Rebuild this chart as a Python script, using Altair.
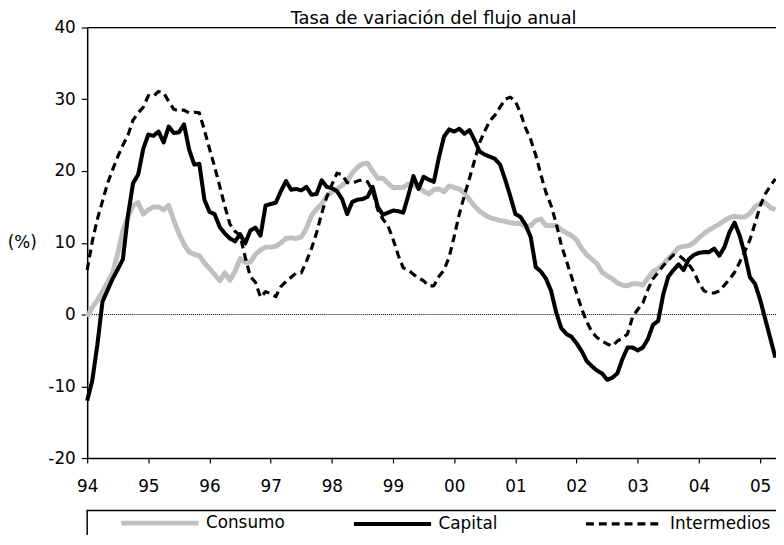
import altair as alt
import pandas as pd

# ---- data (monthly, Jan 1994 .. Apr 2005) ----
start_year = 1994
year_ticks = list(range(1994, 2006))
y_ticks = [-20, -10, 0, 10, 20, 30, 40]
title_text = "Tasa de variación del flujo anual"

consumo = [
    -0.3, 1.0, 2.0, 3.2, 4.5, 5.8, 8.5, 11.7, 13.6, 15.2, 15.6, 14.0,
    14.6, 15.0, 15.0, 14.6, 15.2, 13.1, 11.3, 9.8, 8.7, 8.4, 8.2, 7.2,
    6.4, 5.6, 4.7, 5.8, 4.8, 6.0, 7.8, 7.3, 7.3, 8.4, 9.0, 9.4,
    9.4, 9.5, 10.0, 10.6, 10.7, 10.6, 10.8, 12.0, 13.8, 14.7, 15.4, 16.5,
    17.1, 17.5, 18.0, 18.6, 19.7, 20.5, 21.0, 21.1, 20.0, 19.0, 19.0, 18.3,
    17.7, 17.7, 17.7, 18.2, 18.0, 17.7, 17.2, 16.8, 17.4, 17.5, 17.1, 17.9,
    17.7, 17.5, 16.9, 16.0, 15.1, 14.4, 13.9, 13.5, 13.3, 13.1, 13.0, 12.8,
    12.7, 12.7, 12.2, 12.4, 13.1, 13.3, 12.4, 12.4, 12.4, 11.8, 11.4, 11.0,
    10.4, 9.2, 8.3, 7.7, 7.1, 5.9, 5.4, 5.0, 4.4, 4.1, 4.0, 4.3,
    4.3, 4.1, 5.1, 6.0, 6.4, 7.0, 7.8, 8.5, 9.3, 9.5, 9.6, 10.0,
    10.7, 11.3, 11.8, 12.2, 12.6, 13.1, 13.5, 13.7, 13.6, 13.6, 14.1, 15.0,
    15.5, 15.6, 14.9, 14.6,
]
capital = [
    -12.0, -9.2, -4.2, 1.8, 3.4, 5.0, 6.3, 7.7, 13.8, 18.3, 19.5, 23.1,
    25.1, 24.9, 25.5, 24.0, 26.2, 25.3, 25.4, 26.5, 23.0, 20.9, 21.0, 16.0,
    14.3, 14.0, 12.2, 11.3, 10.6, 10.2, 11.2, 9.9, 11.7, 12.1, 11.0, 15.2,
    15.4, 15.6, 17.2, 18.6, 17.4, 17.5, 17.3, 17.8, 16.7, 16.8, 18.7, 17.8,
    17.6, 17.2, 16.1, 14.0, 15.7, 16.0, 16.1, 16.4, 17.8, 15.0, 13.9, 14.2,
    14.5, 14.4, 14.2, 16.6, 19.3, 17.5, 19.2, 18.8, 18.5, 21.9, 24.8, 25.8,
    25.5, 25.9, 25.2, 25.7, 24.3, 22.7, 22.3, 22.0, 21.7, 20.9, 18.8, 16.5,
    14.0, 13.6, 12.5, 10.8, 6.6, 6.0, 5.0, 3.3, 0.3, -1.9, -2.7, -3.1,
    -4.0, -5.1, -6.5, -7.2, -7.8, -8.2, -9.1, -8.8, -8.2, -6.2, -4.6, -4.6,
    -5.0, -4.6, -3.4, -1.4, -0.9, 2.8, 5.3, 6.2, 7.0, 6.2, 7.7, 8.3,
    8.6, 8.7, 8.7, 9.2, 8.2, 9.4, 11.5, 12.8, 11.0, 8.4, 5.2, 4.3,
    2.1, -0.6, -3.3, -6.0,
]
intermedios = [
    6.2, 10.2, 13.3, 15.8, 18.3, 20.2, 22.0, 23.6, 25.0, 27.1, 28.1, 28.9,
    30.5, 30.4, 31.1, 30.9, 29.7, 28.6, 28.4, 28.5, 28.1, 28.2, 28.1, 25.7,
    23.1, 20.6, 17.9, 15.1, 12.6, 11.6, 11.0, 8.0, 5.3, 4.5, 2.4, 3.2,
    2.9, 2.5, 3.9, 4.6, 5.2, 5.8, 5.8, 7.4, 9.2, 11.4, 14.1, 16.4,
    18.1, 19.7, 19.5, 18.4, 18.3, 18.6, 18.8, 18.5, 17.2, 14.6, 13.3, 12.4,
    10.5, 8.3, 6.5, 6.2, 5.6, 5.1, 4.7, 4.0, 4.0, 5.3, 6.2, 8.0,
    10.9, 14.0, 16.6, 19.0, 21.5, 24.0, 25.6, 27.0, 27.8, 28.9, 30.0, 30.3,
    29.7, 28.1, 26.0, 24.4, 22.2, 19.5, 17.0, 15.2, 12.7, 9.7, 7.5, 5.3,
    3.0, 0.8, -1.0, -2.4, -3.2, -3.7, -4.1, -4.4, -3.7, -3.3, -2.7, -0.3,
    0.7, 1.6, 3.5, 5.0, 5.9, 6.8, 7.6, 8.3, 8.3, 7.7, 7.0, 6.0,
    4.4, 3.3, 3.0, 3.0, 3.3, 4.1, 4.9, 5.9, 7.3, 8.8, 10.4, 12.7,
    15.1, 16.8, 17.9, 18.9,
]

series_names = ["Consumo", "Capital", "Intermedios"]
series_values = [consumo, capital, intermedios]
series_colors = ["#c0c0c0", "#000000", "#000000"]
series_dash = [[1, 0], [1, 0], [8, 5]]
series_width = [5.0, 3.2, 1.4]

rows = []
for name, vals in zip(series_names, series_values):
    for i, v in enumerate(vals):
        rows.append({"t": start_year + i / 12.0, "serie": name, "v": v})
df = pd.DataFrame(rows)

FONT = "DejaVu Sans"
W, H = 696, 435

legend = alt.Legend(
    orient="none", legendX=32, legendY=459, direction="horizontal", title=None,
    symbolType="stroke", symbolSize=6084, labelFontSize=17, labelFont=FONT,
    labelColor="black", labelOffset=5, columnPadding=40, gridAlign="all",
    padding=0,
)

x = alt.X("t:Q", scale=alt.Scale(domain=[1994, 2005.26], nice=False, zero=False),
          axis=alt.Axis(values=year_ticks, title=None,
                        labelExpr="substring(toString(datum.value), 2)",
                        labelFontSize=17, labelFont=FONT, labelColor="black",
                        tickSize=5, tickColor="black", tickWidth=1.2,
                        domainColor="black", domainWidth=1.5,
                        labelPadding=16, grid=False, labelFlush=False))
y = alt.Y("v:Q", scale=alt.Scale(domain=[-20, 40], nice=False, zero=False),
          axis=alt.Axis(values=y_ticks, title="(%)",
                        labelExpr="toString(datum.value)",
                        titleAngle=0, titleX=-66, titleY=217, titleAlign="center",
                        titleBaseline="middle", titleFontSize=17, titleFont=FONT,
                        titleFontWeight="normal", titleColor="black",
                        labelFontSize=17, labelFont=FONT, labelColor="black",
                        tickSize=6, tickColor="black", tickWidth=1.2,
                        domainColor="black", domainWidth=1.5,
                        labelPadding=6, grid=False))

color = alt.Color("serie:N", scale=alt.Scale(domain=series_names, range=series_colors),
                  legend=legend)
dash = alt.StrokeDash("serie:N", scale=alt.Scale(domain=series_names, range=series_dash),
                      legend=legend)
sw = alt.StrokeWidth("serie:N", scale=alt.Scale(domain=series_names, range=series_width),
                     legend=legend)

base = alt.Chart(df)
lines = [
    base.transform_filter(alt.datum.serie == name)
    .mark_line(strokeJoin="round")
    .encode(x=x, y=y, color=color, strokeDash=dash, strokeWidth=sw)
    for name in series_names
]

top_line = alt.Chart(pd.DataFrame({"v": [40]})).mark_rule(color="black", strokeWidth=1.2).encode(y="v:Q")
zero_line = alt.Chart(pd.DataFrame({"v": [0]})).mark_rule(
    color="black", strokeWidth=1, strokeDash=[1, 1]).encode(y="v:Q")
legend_box = alt.Chart(pd.DataFrame({"k": [0]})).mark_rect(
    filled=False, stroke="black", strokeWidth=1.5).encode(
    x=alt.value(0), x2=alt.value(W + 40), y=alt.value(488), y2=alt.value(600))
title_mark = alt.Chart(pd.DataFrame({"txt": [title_text]})).mark_text(
    font=FONT, fontSize=18, align="center", baseline="alphabetic", color="black").encode(
    text="txt:N", x=alt.value(W / 2 + 2), y=alt.value(-4))

chart = alt.layer(zero_line, top_line, legend_box, *lines, title_mark).properties(
    width=W, height=H,
    autosize=alt.AutoSizeParams(type="none"),
    padding={"left": 80, "top": 17, "right": 0, "bottom": 75},
).configure_view(stroke=None).configure(background="white")

chart.save("out.html", embed_options={"renderer": "svg", "actions": False})
